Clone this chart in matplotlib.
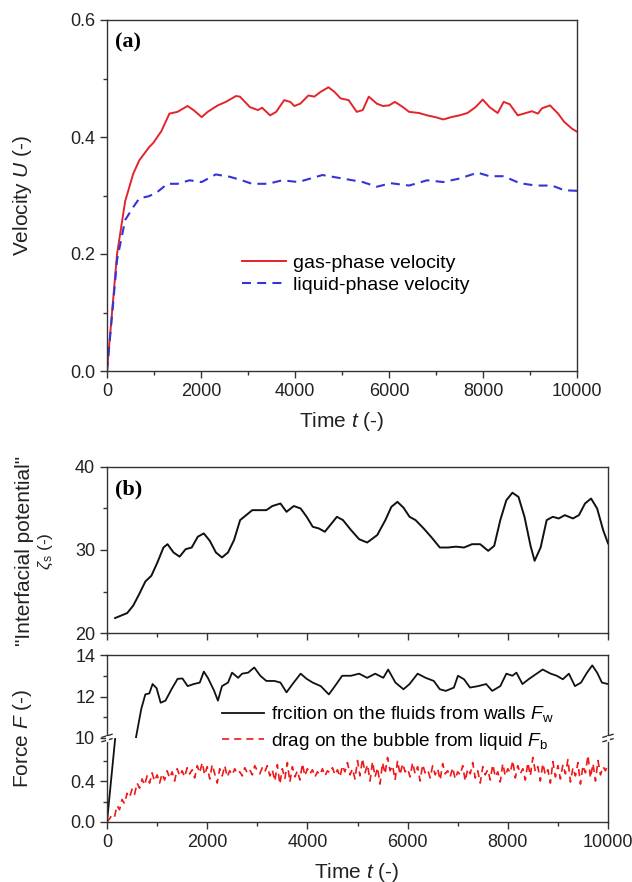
import numpy as np
import matplotlib
matplotlib.use('Agg')
import matplotlib.pyplot as plt
from matplotlib.lines import Line2D

plt.rcParams['font.family'] = ['Liberation Sans', 'DejaVu Sans']
plt.rcParams['mathtext.fontset'] = 'custom'
plt.rcParams['mathtext.rm'] = 'Liberation Sans'
plt.rcParams['mathtext.it'] = 'Liberation Sans:italic'

# ---- panel (a): velocities ----
t_gas = [0, 214, 386, 557, 686, 900, 985, 1157, 1328, 1500, 1714, 1842, 2014, 2142,
         2356, 2528, 2742, 2828, 3042, 3213, 3300, 3470, 3600, 3770, 3900, 3985,
         4113, 4285, 4413, 4541, 4713, 4841, 4970, 5141, 5313, 5441, 5570, 5741,
         5870, 6000, 6127, 6298, 6427, 6641, 6812, 6984, 7155, 7326, 7498, 7669,
         7841, 7995, 8140, 8312, 8440, 8569, 8740, 8869, 9040, 9169, 9254, 9426,
         9597, 9726, 9897, 10000]
u_gas = [0.0, 0.20, 0.29, 0.337, 0.36, 0.383, 0.39, 0.41, 0.44, 0.443, 0.453, 0.446,
         0.434, 0.443, 0.454, 0.46, 0.47, 0.469, 0.451, 0.446, 0.45, 0.437, 0.443,
         0.463, 0.46, 0.453, 0.457, 0.471, 0.469, 0.477, 0.485, 0.477, 0.466, 0.463,
         0.443, 0.446, 0.469, 0.457, 0.453, 0.454, 0.46, 0.451, 0.443, 0.441, 0.437,
         0.434, 0.43, 0.434, 0.437, 0.441, 0.451, 0.464, 0.451, 0.441, 0.46, 0.456,
         0.437, 0.44, 0.444, 0.44, 0.449, 0.454, 0.44, 0.426, 0.414, 0.409]

t_liq = [0, 214, 386, 557, 686, 900, 1071, 1285, 1500, 1757, 2014, 2314, 2613, 2870,
         3085, 3427, 3727, 4070, 4584, 5013, 5441, 5741, 6041, 6427, 6812, 7155,
         7498, 7884, 8140, 8440, 8783, 9126, 9469, 9726, 10000]
u_liq = [0.0, 0.19, 0.258, 0.28, 0.295, 0.299, 0.306, 0.32, 0.32, 0.326, 0.323,
         0.336, 0.332, 0.326, 0.32, 0.32, 0.326, 0.323, 0.335, 0.329, 0.323, 0.315,
         0.321, 0.317, 0.326, 0.323, 0.329, 0.339, 0.333, 0.333, 0.321, 0.317,
         0.317, 0.309, 0.308]

# ---- panel (b): interfacial potential ----
t_pot = [161, 282, 403, 523, 644, 765, 886, 1006, 1127, 1208, 1328, 1449, 1570, 1691,
         1812, 1932, 2053, 2174, 2295, 2415, 2536, 2657, 2778, 2899, 3019, 3180,
         3301, 3462, 3583, 3728, 3865, 3986, 4106, 4227, 4348, 4469, 4589, 4710,
         4871, 5032, 5193, 5394, 5556, 5676, 5797, 5918, 6039, 6159, 6320, 6481,
         6643, 6804, 6965, 7126, 7287, 7448, 7609, 7729, 7850, 7971, 8092, 8213,
         8333, 8454, 8535, 8655, 8776, 8897, 9018, 9138, 9300, 9420, 9541, 9662,
         9783, 9903, 10000]
zeta = [21.8, 22.1, 22.4, 23.3, 24.7, 26.2, 26.9, 28.5, 30.3, 30.7, 29.7, 29.2, 30.1,
        30.3, 31.6, 32.0, 31.1, 29.7, 29.1, 29.7, 31.2, 33.6, 34.2, 34.8, 34.8, 34.8,
        35.3, 35.6, 34.6, 35.3, 35.0, 34.0, 32.8, 32.6, 32.2, 33.1, 34.0, 33.6, 32.4,
        31.3, 30.9, 31.8, 33.6, 35.2, 35.8, 35.1, 34.0, 33.6, 32.6, 31.5, 30.3, 30.3,
        30.4, 30.3, 30.7, 30.7, 29.9, 30.5, 33.6, 36.0, 36.9, 36.4, 34.0, 30.5, 28.7,
        30.3, 33.6, 34.0, 33.8, 34.2, 33.8, 34.2, 35.6, 36.2, 35.0, 32.4, 30.8]

# ---- panel (b): forces ----
t_fw = [0, 170, 580, 684, 765, 845, 910, 990, 1071, 1167, 1288, 1409, 1506, 1610,
        1731, 1852, 1932, 2013, 2134, 2214, 2295, 2415, 2496, 2617, 2697, 2818,
        2939, 3060, 3180, 3341, 3462, 3583, 3704, 3865, 3986, 4106, 4267, 4428,
        4549, 4694, 4871, 5032, 5193, 5354, 5515, 5612, 5757, 5918, 6039, 6200,
        6361, 6522, 6643, 6763, 6924, 7005, 7126, 7246, 7407, 7568, 7689, 7850,
        7971, 8092, 8172, 8293, 8414, 8575, 8696, 8857, 8977, 9098, 9219, 9340,
        9461, 9581, 9686, 9783, 9879, 10000]
f_w = [0.0, 0.85, 10.05, 11.4, 12.1, 12.15, 12.6, 12.4, 11.7, 11.8, 12.35, 12.85,
       12.87, 12.5, 12.6, 12.67, 13.2, 12.9, 12.3, 11.8, 12.5, 12.67, 13.15, 12.9,
       13.1, 13.15, 13.4, 13.0, 12.75, 12.75, 12.67, 12.2, 12.6, 13.1, 12.85, 12.67,
       12.5, 12.1, 12.5, 13.0, 13.0, 13.1, 12.9, 13.1, 12.9, 13.3, 12.67, 12.35,
       12.6, 13.1, 12.9, 12.75, 12.35, 12.27, 12.43, 13.0, 12.83, 12.43, 12.5, 12.6,
       12.27, 12.5, 13.1, 13.0, 13.15, 12.6, 12.83, 13.1, 13.3, 13.1, 13.0, 12.83,
       13.1, 12.5, 12.67, 13.15, 13.5, 13.15, 12.67, 12.6]

t_fb = list(range(0, 10001, 50))
f_b = [0.00, 0.03, 0.07, 0.05, 0.16, 0.12, 0.22, 0.18, 0.28, 0.24, 0.32, 0.27, 0.38,
       0.33, 0.42, 0.36, 0.45, 0.38, 0.48, 0.40, 0.46,
       0.38, 0.47, 0.41, 0.50, 0.43, 0.49, 0.40, 0.52, 0.45, 0.50, 0.44, 0.53, 0.47,
       0.51, 0.43, 0.55, 0.48, 0.58, 0.46, 0.54,
       0.42, 0.56, 0.47, 0.38, 0.52, 0.45, 0.55, 0.44, 0.50, 0.46, 0.52, 0.47, 0.49,
       0.45, 0.53, 0.48, 0.51, 0.46, 0.55, 0.50,
       0.47, 0.53, 0.49, 0.55, 0.45, 0.51, 0.40, 0.56, 0.37, 0.52, 0.42, 0.58, 0.39,
       0.54, 0.44, 0.50, 0.41, 0.57, 0.45, 0.52,
       0.47, 0.51, 0.44, 0.49, 0.46, 0.52, 0.45, 0.50, 0.48, 0.53, 0.46, 0.51, 0.44,
       0.55, 0.49, 0.58, 0.46, 0.52, 0.42, 0.60,
       0.45, 0.62, 0.48, 0.56, 0.40, 0.59, 0.44, 0.53, 0.37, 0.58, 0.47, 0.63, 0.50,
       0.55, 0.41, 0.60, 0.46, 0.57, 0.49, 0.52,
       0.44, 0.58, 0.47, 0.54, 0.40, 0.56, 0.48, 0.51, 0.43, 0.55, 0.46, 0.52, 0.41,
       0.57, 0.47, 0.50, 0.44, 0.53, 0.42, 0.49,
       0.46, 0.55, 0.40, 0.52, 0.47, 0.58, 0.43, 0.50, 0.38, 0.54, 0.46, 0.51, 0.41,
       0.56, 0.44, 0.49, 0.39, 0.57, 0.45, 0.52,
       0.48, 0.60, 0.43, 0.55, 0.47, 0.52, 0.41, 0.58, 0.45, 0.63, 0.49, 0.54, 0.40,
       0.57, 0.46, 0.51, 0.38, 0.59, 0.44, 0.55,
       0.42, 0.56, 0.47, 0.61, 0.39, 0.53, 0.45, 0.58, 0.37, 0.55, 0.48, 0.65, 0.43,
       0.57, 0.40, 0.60, 0.46, 0.54, 0.50, 0.57]

W, H = 632, 882


def fx(x):
    return x / W


def fy(y):
    return 1 - y / H


def style(ax, xlabels=True):
    for s in ax.spines.values():
        s.set_color('#333333')
        s.set_linewidth(1.0)
    ax.tick_params(which='both', direction='out', top=False, right=False,
                   colors='#333333', labelcolor='#222222', labelsize=13, width=1.0)
    ax.tick_params(which='major', length=5)
    ax.tick_params(which='minor', length=3)
    ax.set_xlim(0, 10000)
    ax.set_xticks(range(0, 10001, 2000))
    ax.set_xticks(range(1000, 10000, 2000), minor=True)
    if not xlabels:
        ax.tick_params(axis='x', labelbottom=False)


fig = plt.figure(figsize=(W / 100, H / 100), dpi=100)

# (a)
ax_a = fig.add_axes([fx(107), fy(371), (577 - 107) / W, (371 - 20) / H])
style(ax_a)
ax_a.plot(t_gas, u_gas, color='#e3242b', lw=1.4, label='gas-phase velocity')
ax_a.plot(t_liq, u_liq, color='#3434d8', lw=1.5, ls=(0, (4.3, 3)),
          label='liquid-phase velocity')
ax_a.set_ylim(0, 0.6)
ax_a.set_yticks([0.0, 0.2, 0.4, 0.6])
ax_a.set_yticks([0.1, 0.3, 0.5], minor=True)
ax_a.yaxis.set_major_formatter(matplotlib.ticker.FormatStrFormatter('%.1f'))
ax_a.legend(loc='center left', bbox_to_anchor=(fx(242), fy(274)),
            bbox_transform=fig.transFigure, frameon=False, fontsize=14,
            handlelength=2.25, handletextpad=0.35, labelspacing=0.22,
            borderpad=0, borderaxespad=0)

# (b) interfacial potential
ax_p = fig.add_axes([fx(107), fy(633), (608 - 107) / W, (633 - 467) / H])
style(ax_p, xlabels=False)
ax_p.plot(t_pot, zeta, color='#111111', lw=1.4)
ax_p.set_ylim(20, 40)
ax_p.set_yticks([20, 30, 40])
ax_p.set_yticks([25, 35], minor=True)

# (b) force, broken axis
ax_fu = fig.add_axes([fx(107), fy(738), (608 - 107) / W, (738 - 655) / H])
ax_fl = fig.add_axes([fx(107), fy(822), (608 - 107) / W, (822 - 738) / H])
style(ax_fu, xlabels=False)
style(ax_fl)
ax_fu.tick_params(axis='x', which='both', bottom=False)
ax_fu.spines['bottom'].set_visible(False)
ax_fl.spines['top'].set_visible(False)
ax_fl.patch.set_alpha(0)
ax_fu.patch.set_alpha(0)

lw_, = ax_fu.plot(t_fw, f_w, color='#111111', lw=1.3)
ax_fl.plot(t_fw, f_w, color='#111111', lw=1.3)
lb_, = ax_fl.plot(t_fb, f_b, color='#f01818', lw=1.2, ls=(0, (4.3, 3)))
ax_fu.set_ylim(10, 14)
ax_fu.set_yticks([10, 12, 14])
ax_fu.set_yticks([11, 13], minor=True)
ax_fl.set_ylim(0, 0.82)
ax_fl.set_yticks([0.0, 0.4])
ax_fl.set_yticks([0.2, 0.6], minor=True)
ax_fl.yaxis.set_major_formatter(matplotlib.ticker.FormatStrFormatter('%.1f'))

# break marks on both spines
for xb in (107, 608):
    for d in (-2.2, 2.2):
        fig.add_artist(Line2D([fx(xb - 5), fx(xb + 5)], [fy(738 - d + 1.5), fy(738 - d - 1.5)],
                              color='#333333', lw=1.0, transform=fig.transFigure))
    fig.add_artist(Line2D([fx(xb), fx(xb)], [fy(736.5), fy(739.5)],
                          color='white', lw=2.0, transform=fig.transFigure))

fig.legend([lw_, lb_],
           [r'frcition on the fluids from walls $F_\mathrm{w}$',
            r'drag on the bubble from liquid $F_\mathrm{b}$'],
           loc='center left', bbox_to_anchor=(fx(222), fy(728)),
           frameon=False, fontsize=13.7, handlelength=2.2, handletextpad=0.35,
           labelspacing=0.35, borderpad=0, borderaxespad=0)

# labels
fig.text(fx(22), fy(195), 'Velocity $U$ (-)', rotation=90, ha='center', va='center',
         fontsize=15, color='#222222')
fig.text(fx(342), fy(421), 'Time $t$ (-)', ha='center', va='center', fontsize=15,
         color='#222222')
fig.text(fx(25), fy(551), '"Interfacial potential"', rotation=90, ha='center',
         va='center', fontsize=15, color='#222222')
fig.text(fx(46), fy(551), r'$\zeta_\mathrm{s}$ (-)', rotation=90, ha='center',
         va='center', fontsize=12.5, color='#222222')
fig.text(fx(22), fy(738), 'Force $F$ (-)', rotation=90, ha='center', va='center',
         fontsize=15, color='#222222')
fig.text(fx(357), fy(872), 'Time $t$ (-)', ha='center', va='center', fontsize=15,
         color='#222222')
fig.text(fx(115), fy(42), '(a)', ha='left', va='center', fontsize=16,
         fontweight='bold', family='Liberation Serif')
fig.text(fx(115), fy(489), '(b)', ha='left', va='center', fontsize=16,
         fontweight='bold', family='Liberation Serif')

fig.savefig('out.png', dpi=100)
